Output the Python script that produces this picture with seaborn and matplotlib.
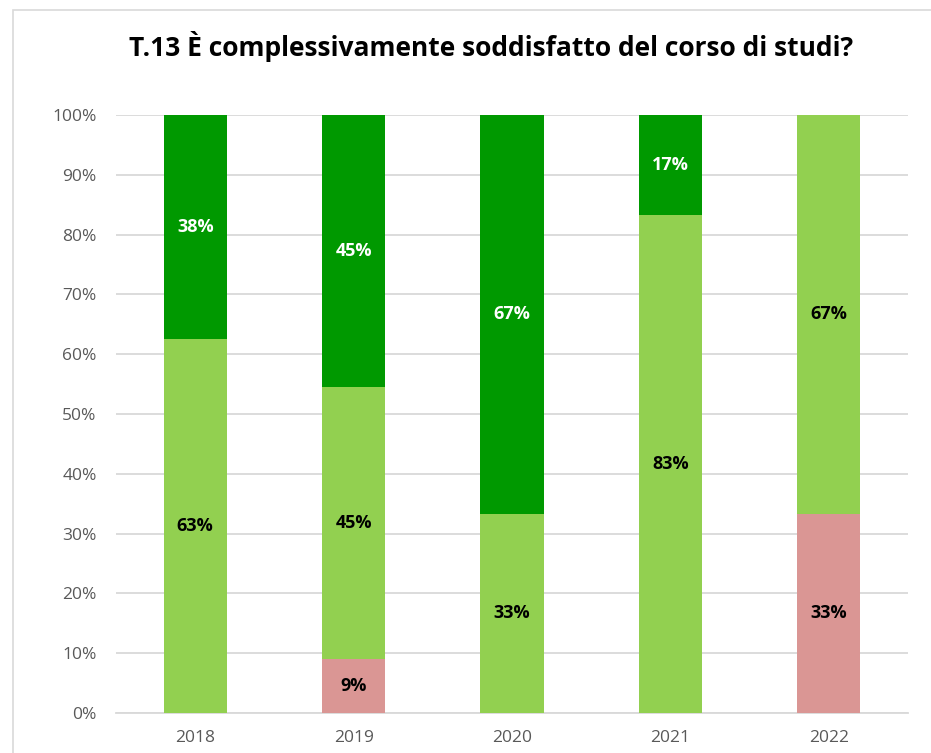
import matplotlib
matplotlib.use("Agg")
import matplotlib.pyplot as plt
import seaborn as sns
import pandas as pd
from matplotlib.patches import Rectangle

years = ["2018", "2019", "2020", "2021", "2022"]
pink = [0.0, 9.09, 0.0, 0.0, 33.33]
light = [62.5, 45.45, 33.33, 83.33, 66.67]
dark = [37.5, 45.45, 66.67, 16.67, 0.0]
title = "T.13 È complessivamente soddisfatto del corso di studi?"

sns.set_theme(style="white")
plt.rcParams['font.family'] = ['Liberation Sans Narrow', 'Open Sans', 'DejaVu Sans']

df = pd.DataFrame({"year": years, "pink": pink, "light": light, "dark": dark})
df["c2"] = df["pink"] + df["light"]
df["c3"] = df["c2"] + df["dark"]

fig = plt.figure(figsize=(9.31, 7.53), dpi=100)
ax = fig.add_axes([116/931, 1-713/753, (908-116)/931, (713-115)/753])

for col, color in [("c3", "#009900"), ("c2", "#92D050"), ("pink", "#DA9694")]:
    sns.barplot(data=df, x="year", y=col, color=color, width=0.4, ax=ax,
                saturation=1, edgecolor="none", zorder=3)

ax.set_ylim(0, 100)
ax.set_xlim(-0.5, 4.5)
ax.set_yticks(range(0, 101, 10))
ax.set_yticklabels([f"{v}%" for v in range(0, 101, 10)])
ax.yaxis.grid(True, color="#d9d9d9", lw=1.3, zorder=0)
ax.set_axisbelow(True)
for s in ["top", "right", "left"]:
    ax.spines[s].set_visible(False)
ax.spines["bottom"].set_color("#d9d9d9")
ax.spines["bottom"].set_linewidth(1.3)
ax.set_xlabel("")
ax.set_ylabel("")
ax.tick_params(axis="both", length=0, labelsize=12.5, labelcolor="#595959")
ax.tick_params(axis="y", pad=14)
ax.tick_params(axis="x", pad=12)

def lab(v):
    return f"{int(v + 0.5)}%"

for i in range(len(years)):
    segs = [(0, pink[i], "black"), (pink[i], light[i], "black"),
            (pink[i] + light[i], dark[i], "white")]
    for base, h, tc in segs:
        if h > 0:
            ax.text(i, base + h / 2, lab(h), ha="center", va="center",
                    fontsize=13, fontweight="bold", color=tc, zorder=5)

fig.text(491/931, 1-47/753, title, ha="center", va="center",
         fontsize=19, fontweight="bold", color="black")

fig.patches.append(Rectangle((13/931, -0.1), 1.2, (1-10/753) + 0.1,
                             transform=fig.transFigure, fill=False,
                             edgecolor="#d9d9d9", lw=1.2, figure=fig))

fig.savefig("out.png", dpi=100)
